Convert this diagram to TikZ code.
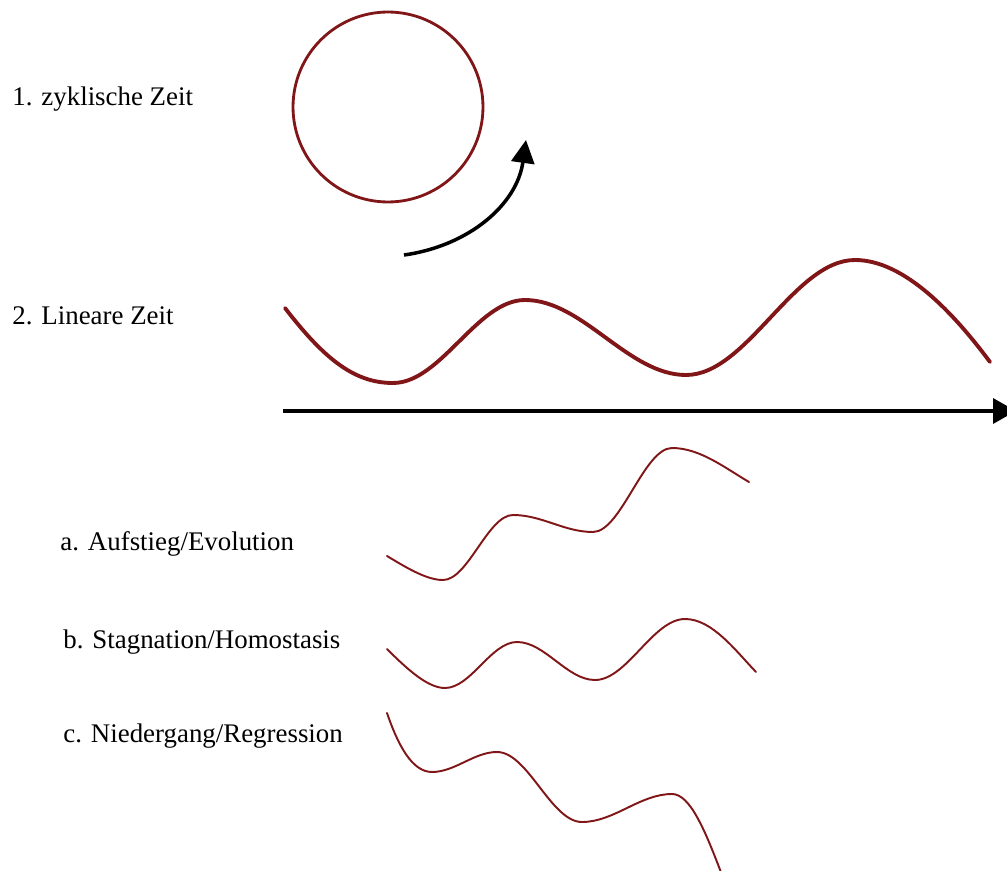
\documentclass[tikz,border=0pt]{standalone}
\usepackage{fontspec}
\setmainfont{Liberation Serif}
\usepackage{xcolor}
\usetikzlibrary{arrows.meta}
\definecolor{zeitrot}{RGB}{128,22,24}

\begin{document}
\begin{tikzpicture}[
  x=0.02cm, y=0.02cm,
  lbl/.style={anchor=base west, inner sep=0pt,
    font=\fontsize{15.3}{18}\selectfont},
  ring/.style={draw=zeitrot, line width=1.6pt},
  welle/.style={draw=zeitrot, line width=2.2pt, line cap=round},
  kurve/.style={draw=zeitrot, line width=1.1pt, line cap=round},
  pfeil/.style={draw, line width=2pt,
    -{Triangle[length=4.6mm, width=4.6mm]}}
]
\useasboundingbox (0,0) rectangle (1007,-871);

% Labels
\node[lbl] (zyklisch) at (12,-106) {1. zyklische Zeit};
\node[lbl] (linear) at (12,-325) {2. Lineare Zeit};
\node[lbl] (aufstieg) at (60,-550) {a. Aufstieg/Evolution};
\node[lbl] (stagnation) at (63,-648) {b. Stagnation/Homostasis};
\node[lbl] (niedergang) at (63,-742) {c. Niedergang/Regression};

% Cyclic time
\draw[ring] (388,-107) circle[radius=1.9cm];
\coordinate (bogenA) at (404,-255);
\coordinate (bogenB) at (526,-140);
\draw[pfeil] (bogenA) to[out=8,in=-98] (bogenB);

% Linear time
\coordinate (achseA) at (283,-411);
\coordinate (achseB) at (1016,-411);
\draw[pfeil, -{Triangle[length=4.6mm, width=5mm]}] (achseA) -- (achseB);
\draw[welle] (285,-308) .. controls (325,-360) and (355,-383) .. (393,-383)
  .. controls (441,-383) and (477,-300) .. (525,-300)
  .. controls (583,-300) and (628,-375) .. (686,-375)
  .. controls (747,-375) and (794,-260) .. (855,-260)
  .. controls (905,-260) and (955,-315) .. (990,-362);

% a. rising
\draw[kurve] (387,-556) .. controls (410,-570) and (428,-580) .. (443,-580)
  .. controls (468,-580) and (488,-515) .. (513,-515)
  .. controls (542,-515) and (564,-532) .. (593,-532)
  .. controls (621,-532) and (644,-448) .. (672,-448)
  .. controls (700,-448) and (725,-468) .. (749,-482);

% b. stagnating
\draw[kurve] (387,-649) .. controls (408,-670) and (428,-688) .. (445,-688)
  .. controls (471,-688) and (491,-642) .. (517,-642)
  .. controls (545,-642) and (567,-680) .. (595,-680)
  .. controls (627,-680) and (653,-619) .. (685,-619)
  .. controls (712,-619) and (735,-650) .. (756,-672);

% c. falling
\draw[kurve] (387,-713) .. controls (398,-745) and (412,-772) .. (432,-772)
  .. controls (455,-772) and (474,-752) .. (497,-752)
  .. controls (528,-752) and (551,-822) .. (582,-822)
  .. controls (614,-822) and (640,-794) .. (672,-794)
  .. controls (690,-794) and (705,-830) .. (722,-875);
\end{tikzpicture}
\end{document}
